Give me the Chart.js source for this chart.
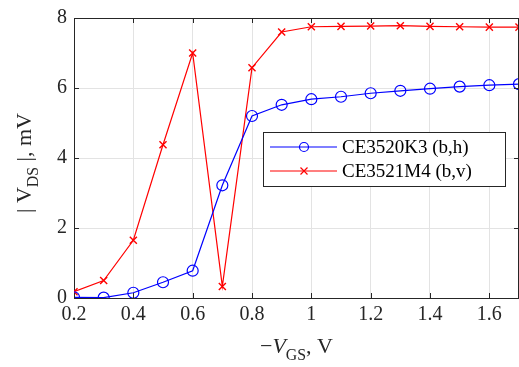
<!DOCTYPE html>
<html>
<head>
<meta charset="utf-8">
<script src="https://cdn.jsdelivr.net/npm/chart.js@4/dist/chart.umd.min.js"></script>
<style>
  html, body { margin: 0; padding: 0; background: #fff; }
  #wrap { width: 519px; height: 367px; }
</style>
</head>
<body>
<div id="wrap"><canvas id="chartVds" width="519" height="367"></canvas></div>
<script>
const vgs = [0.2, 0.3, 0.4, 0.5, 0.6, 0.7, 0.8, 0.9, 1.0, 1.1, 1.2, 1.3, 1.4, 1.5, 1.6, 1.7];
const vdsK3 = [0.02, 0.01, 0.15, 0.45, 0.78, 3.22, 5.2, 5.52, 5.68, 5.75, 5.85, 5.92, 5.98, 6.04, 6.08, 6.11];
const vdsM4 = [0.18, 0.5, 1.65, 4.38, 7.0, 0.33, 6.58, 7.6, 7.75, 7.76, 7.77, 7.78, 7.76, 7.75, 7.74, 7.74];
const xTicks = [0.2, 0.4, 0.6, 0.8, 1, 1.2, 1.4, 1.6];
const yTicks = [0, 2, 4, 6, 8];
const labelK3 = 'CE3520K3 (b,h)';
const labelM4 = 'CE3521M4 (b,v)';

const serif = "'Liberation Serif', 'DejaVu Serif', serif";
const axisCol = '#262626';

function pts(xs, ys) {
    return xs.map((x, i) => ({ x: x, y: ys[i] }));
}

// draw text parts: [text, italic, subscript]
function drawParts(ctx, parts, size) {
    let w = 0;
    const widths = parts.map(p => {
        ctx.font = (p[1] ? 'italic ' : '') + (p[2] ? size * 0.72 : size) + 'px ' + serif;
        return ctx.measureText(p[0]).width;
    });
    widths.forEach(v => w += v);
    let x = -w / 2;
    parts.forEach((p, i) => {
        ctx.font = (p[1] ? 'italic ' : '') + (p[2] ? size * 0.72 : size) + 'px ' + serif;
        ctx.fillText(p[0], x, p[2] ? size * 0.3 : 0);
        x += widths[i];
    });
}

const framePlugin = {
    id: 'frame',
    afterDraw(chart) {
        const ctx = chart.ctx;
        const a = chart.chartArea;
        const xs = chart.scales.x, ys = chart.scales.y;
        ctx.save();
        ctx.strokeStyle = axisCol;
        ctx.lineWidth = 1;
        ctx.beginPath();
        ctx.moveTo(a.left, a.top + 0.5);
        ctx.lineTo(a.right, a.top + 0.5);
        ctx.moveTo(a.right - 0.5, a.top);
        ctx.lineTo(a.right - 0.5, a.bottom);
        xTicks.forEach(t => {
            const px = Math.round(xs.getPixelForValue(t)) + 0.5;
            ctx.moveTo(px, a.bottom);
            ctx.lineTo(px, a.bottom - 5);
            ctx.moveTo(px, a.top);
            ctx.lineTo(px, a.top + 5);
        });
        yTicks.forEach(t => {
            const py = Math.round(ys.getPixelForValue(t)) + 0.5;
            ctx.moveTo(a.left, py);
            ctx.lineTo(a.left + 5, py);
            ctx.moveTo(a.right, py);
            ctx.lineTo(a.right - 5, py);
        });
        ctx.stroke();

        // axis titles
        ctx.fillStyle = axisCol;
        ctx.textBaseline = 'alphabetic';
        ctx.textAlign = 'left';
        ctx.save();
        ctx.translate((a.left + a.right) / 2, 353);
        drawParts(ctx, [['\u2212', false, false], ['V', true, false], ['GS', false, true], [', V', false, false]], 22);
        ctx.restore();
        ctx.save();
        ctx.translate(31, 163);
        ctx.rotate(-Math.PI / 2);
        drawParts(ctx, [['| V', false, false], ['DS', false, true], [' |, mV', false, false]], 22);
        ctx.restore();

        // legend
        const bx = a.left + 189, by = 132, bw = 242, bh = 54;
        ctx.fillStyle = '#fff';
        ctx.fillRect(bx, by, bw, bh);
        ctx.strokeStyle = axisCol;
        ctx.strokeRect(bx + 0.5, by + 0.5, bw, bh);
        const rows = [[labelK3, '#0000ff', 'circle', 147], [labelM4, '#ff0000', 'cross', 171]];
        rows.forEach(r => {
            ctx.strokeStyle = r[1];
            ctx.lineWidth = 1.2;
            ctx.beginPath();
            ctx.moveTo(bx + 7, r[3]);
            ctx.lineTo(bx + 74, r[3]);
            ctx.stroke();
            const mx = bx + 41;
            ctx.beginPath();
            if (r[2] === 'circle') {
                ctx.arc(mx, r[3], 4.5, 0, Math.PI * 2);
            } else {
                ctx.moveTo(mx - 3.5, r[3] - 3.5);
                ctx.lineTo(mx + 3.5, r[3] + 3.5);
                ctx.moveTo(mx + 3.5, r[3] - 3.5);
                ctx.lineTo(mx - 3.5, r[3] + 3.5);
            }
            ctx.stroke();
            ctx.fillStyle = '#000';
            ctx.font = '19px ' + serif;
            ctx.textBaseline = 'middle';
            ctx.fillText(r[0], bx + 79, r[3] + 1);
        });
        ctx.restore();
    }
};

new Chart(document.getElementById('chartVds'), {
    type: 'line',
    data: {
        datasets: [{
            label: labelK3,
            data: pts(vgs, vdsK3),
            borderColor: '#0000ff',
            backgroundColor: 'rgba(0,0,0,0)',
            borderWidth: 1.2,
            pointStyle: 'circle',
            pointRadius: 5.5,
            pointBorderWidth: 1.2,
            pointBorderColor: '#0000ff',
            pointBackgroundColor: 'rgba(0,0,0,0)',
            tension: 0
        }, {
            label: labelM4,
            data: pts(vgs, vdsM4),
            borderColor: '#ff0000',
            backgroundColor: 'rgba(0,0,0,0)',
            borderWidth: 1.2,
            pointStyle: 'crossRot',
            pointRadius: 5,
            pointBorderWidth: 1.4,
            pointBorderColor: '#ff0000',
            tension: 0
        }]
    },
    options: {
        responsive: false,
        animation: false,
        layout: { autoPadding: false, padding: { top: 18, right: 0, left: 0, bottom: 0 } },
        plugins: {
            legend: { display: false },
            tooltip: { enabled: false }
        },
        scales: {
            x: {
                type: 'linear',
                min: 0.2,
                max: 1.7,
                afterBuildTicks: s => { s.ticks = xTicks.map(v => ({ value: v })); },
                afterFit: s => { s.height = 69; s.paddingLeft = 0; s.paddingRight = 0; },
                grid: { color: '#e3e3e3', drawTicks: false },
                border: { color: axisCol },
                ticks: {
                    padding: 5,
                    color: axisCol,
                    font: { family: serif, size: 20 },
                    maxRotation: 0,
                    callback: v => String(Math.round(v * 10) / 10)
                }
            },
            y: {
                type: 'linear',
                min: 0,
                max: 8,
                afterBuildTicks: s => { s.ticks = yTicks.map(v => ({ value: v })); },
                afterFit: s => { s.width = 74; s.paddingTop = 0; s.paddingBottom = 0; },
                grid: { color: '#e3e3e3', drawTicks: false },
                border: { color: axisCol },
                ticks: {
                    padding: 7,
                    color: axisCol,
                    font: { family: serif, size: 20 }
                }
            }
        }
    },
    plugins: [framePlugin]
});
</script>
</body>
</html>
